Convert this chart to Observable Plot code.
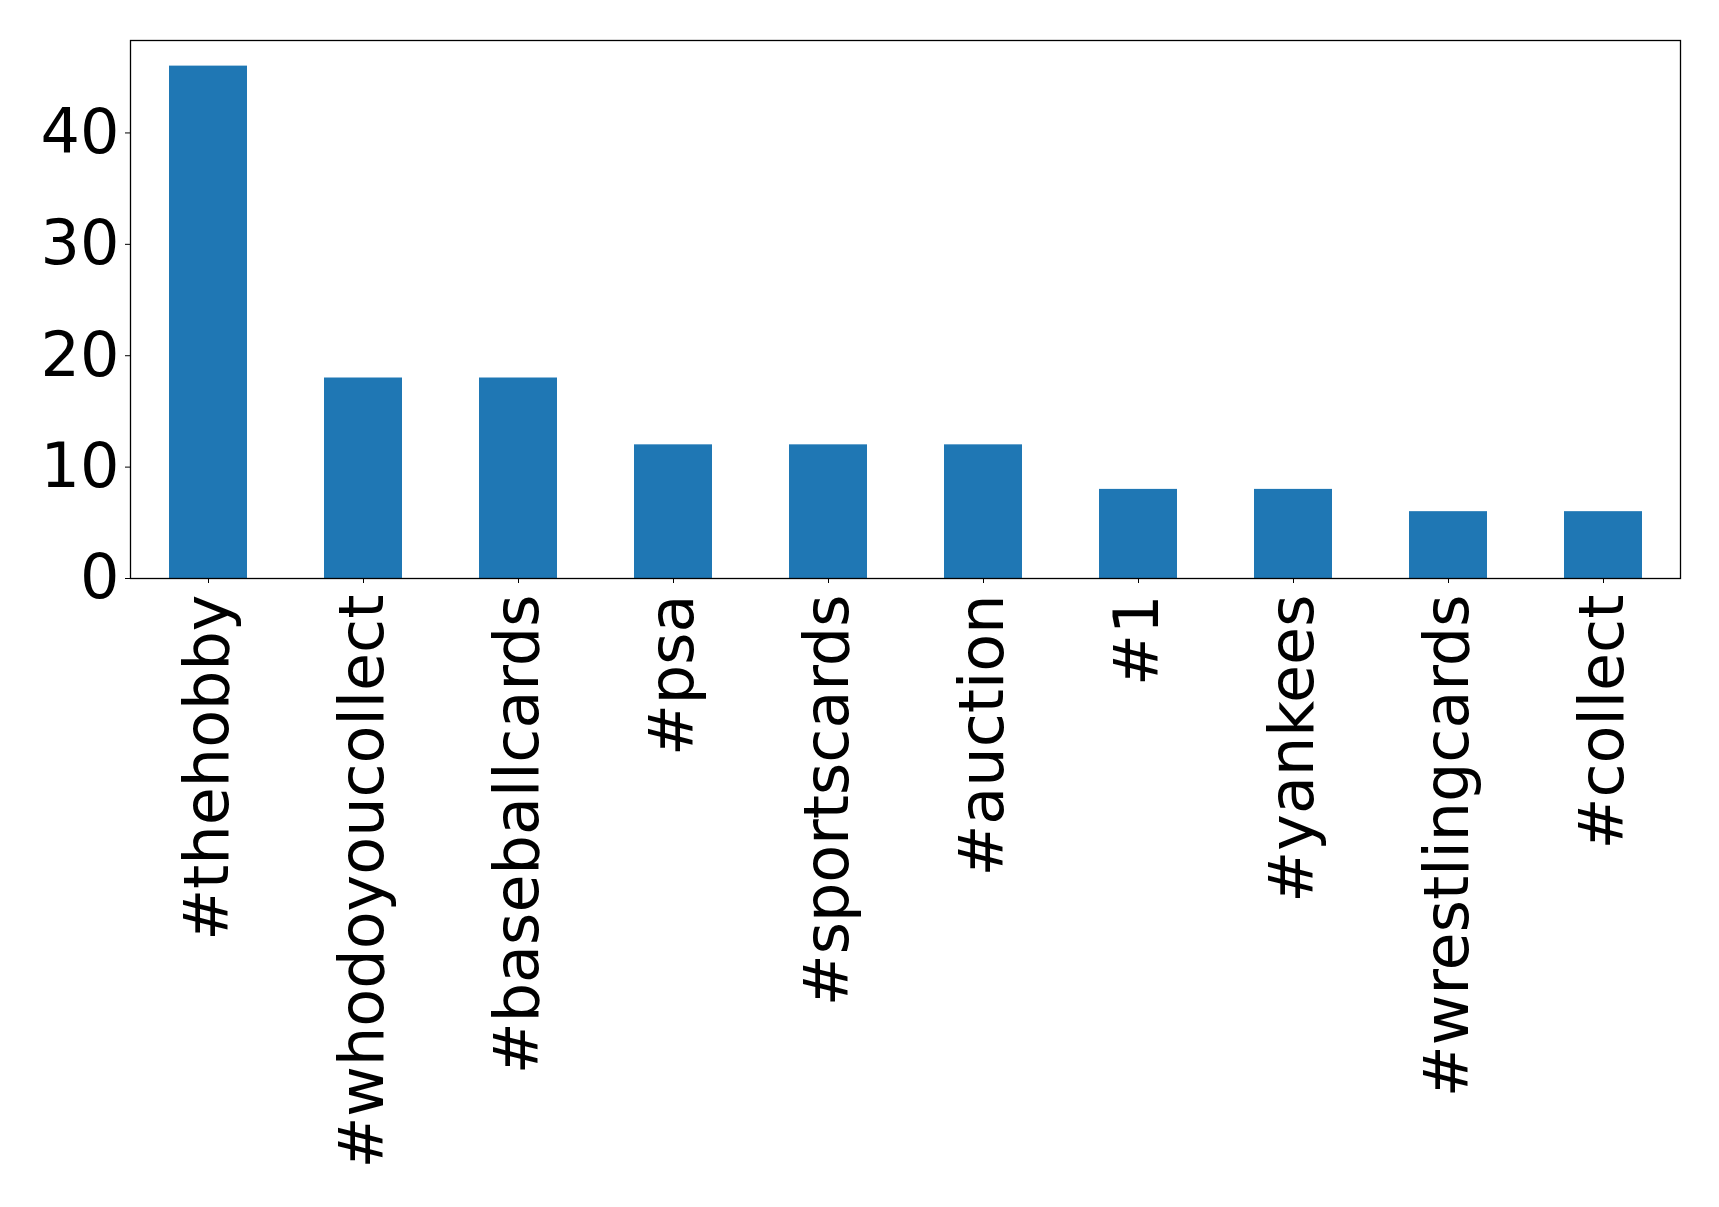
<!DOCTYPE html>
<html>
<head>
<meta charset="utf-8">
<script src="https://cdn.jsdelivr.net/npm/d3@7"></script>
<script src="https://cdn.jsdelivr.net/npm/@observablehq/plot@0.6"></script>
<style>
  html, body { margin: 0; padding: 0; background: #fff; }
  #chart svg { display: block; }
</style>
</head>
<body>
<div id="chart"></div>
<script>
const hashtags = ["#thehobby", "#whodoyoucollect", "#baseballcards", "#psa", "#sportscards", "#auction", "#1", "#yankees", "#wrestlingcards", "#collect"];
const counts = [46, 18, 18, 12, 12, 12, 8, 8, 6, 6];
const yTicks = [0, 10, 20, 30, 40];

const data = hashtags.map((tag, i) => ({tag, count: counts[i]}));

const chart = Plot.plot({
  width: 1719,
  height: 1207,
  marginLeft: 130,
  marginRight: 39,
  marginTop: 40,
  marginBottom: 629,
  style: {fontFamily: "'DejaVu Sans', sans-serif", background: "#fff", color: "#000"},
  x: {type: "band", domain: hashtags, paddingInner: 0.5, paddingOuter: 0.25},
  y: {domain: [0, 46 * 1.05]},
  marks: [
    Plot.barY(data, {x: "tag", y: "count", fill: "#1f77b4"}),
    Plot.frame({stroke: "#000", strokeWidth: 1.3}),
    Plot.axisY({ticks: yTicks, tickSize: 5, tickPadding: 6, fontSize: 62, label: null, tickFormat: d3.format("d")}),
    Plot.axisX({tickSize: 5, tickPadding: 11, fontSize: 62, tickRotate: -90, label: null})
  ]
});
document.getElementById("chart").appendChild(chart);
</script>
</body>
</html>
